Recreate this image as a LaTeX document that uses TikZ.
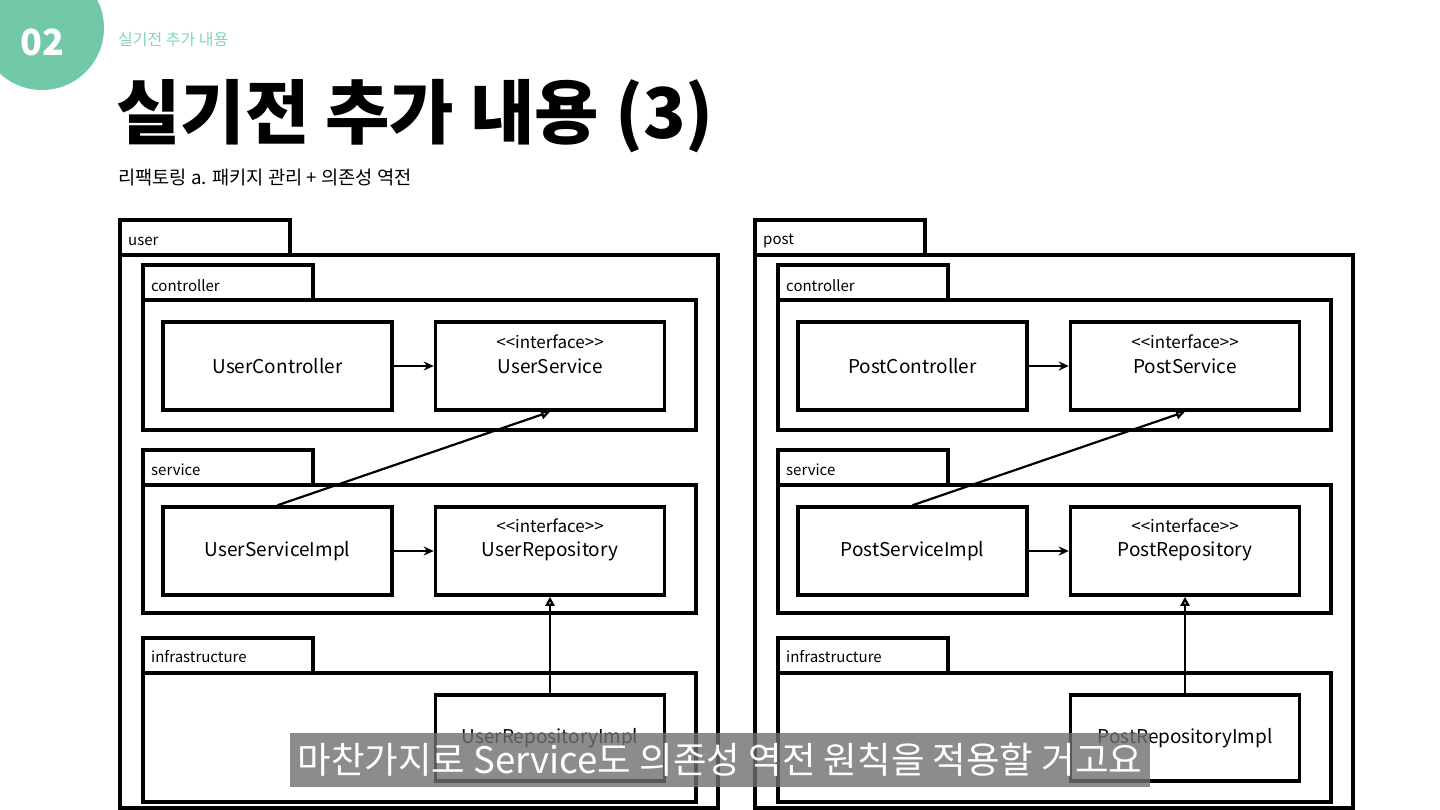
\documentclass[tikz,border=0pt]{standalone}
\usepackage{fontspec}
\setmainfont{Noto Sans CJK KR}
\usetikzlibrary{arrows.meta}
\definecolor{mint}{HTML}{72C9A7}
\definecolor{minttext}{HTML}{86D3B5}
\newcommand\stereo[1]{<\kern0pt<#1>\kern0pt>}

\begin{document}
\begin{tikzpicture}[x=1pt,y=-1pt,
  pkgline/.style={line width=3.5pt},
  tabtext/.style={anchor=west,inner sep=0pt,font=\fontsize{15}{15}\selectfont},
  cls/.style={draw,line width=3.5pt,minimum width=229pt,minimum height=88pt,inner sep=0pt,font=\fontsize{19}{19}\selectfont},
  stereotype/.style={inner sep=0pt,font=\fontsize{17}{17}\selectfont},
  uses/.style={-{Stealth[length=10pt,width=9pt]},line width=2.2pt},
  impl/.style={-{Triangle[open,length=9pt,width=9pt]},line width=2.2pt}]
  \useasboundingbox (0,0) rectangle (1440,810);
  \fill[white] (0,0) rectangle (1440,810);
  % 헤더
  \fill[mint] (42,28) circle[radius=62];
  \node[text=white,font=\bfseries\fontsize{36}{36}\selectfont] (num) at (42,42) {02};
  \node[anchor=west,inner sep=0pt,text=minttext,font=\fontsize{16}{16}\selectfont] (crumb) at (118,40) {실기전 추가 내용};
  \node[anchor=west,inner sep=0pt,font=\bfseries\fontsize{70}{70}\selectfont] (title) at (116,116) {실기전 추가 내용 (3)};
  \node[anchor=west,inner sep=0pt,font=\fontsize{18.7}{18.7}\selectfont] (sub) at (118,178) {리팩토링 a. 패키지 관리 + 의존성 역전};
  % 패키지
  \foreach \pkg/\Pkg/\dx in {user/User/0,post/Post/635}{
    \draw[pkgline] (120+\dx,255) rectangle (718+\dx,808);
    \draw[pkgline] (120+\dx,220) rectangle (290+\dx,255);
    \node[tabtext] (\pkg-lbl) at (128+\dx,241) {\pkg};
    % controller
    \draw[pkgline] (143+\dx,300) rectangle (696+\dx,430);
    \draw[pkgline] (143+\dx,265) rectangle (313+\dx,300);
    \node[tabtext] (\pkg-ctrl-lbl) at (151+\dx,286) {controller};
    % service
    \draw[pkgline] (143+\dx,485) rectangle (696+\dx,613);
    \draw[pkgline] (143+\dx,450) rectangle (313+\dx,485);
    \node[tabtext] (\pkg-svc-lbl) at (151+\dx,470) {service};
    % infrastructure
    \draw[pkgline] (143+\dx,673) rectangle (696+\dx,802);
    \draw[pkgline] (143+\dx,638) rectangle (313+\dx,673);
    \node[tabtext] (\pkg-infra-lbl) at (151+\dx,657) {infrastructure};
    % 클래스
    \node[cls] (\pkg-ctrl) at (277.5+\dx,366) {\Pkg Controller};
    \node[cls] (\pkg-svc) at (550+\dx,366) {\Pkg Service};
    \node[stereotype] (\pkg-svc-st) at (550+\dx,342) {\stereo{interface}};
    \node[cls] (\pkg-simpl) at (277.5+\dx,551) {\Pkg ServiceImpl};
    \node[cls] (\pkg-repo) at (550+\dx,551) {\Pkg Repository};
    \node[stereotype] (\pkg-repo-st) at (550+\dx,526) {\stereo{interface}};
    \node[cls,minimum height=86pt] (\pkg-rimpl) at (550+\dx,738) {\Pkg RepositoryImpl};
    % 의존 관계
    \draw[uses] (\pkg-ctrl) -- (\pkg-svc);
    \draw[uses] (\pkg-simpl) -- (\pkg-repo);
    \draw[impl] (\pkg-simpl.north) -- (\pkg-svc.south);
    \draw[impl] (\pkg-rimpl) -- (\pkg-repo);
  }
  % 자막
  \node[fill=black!56,fill opacity=0.8,text opacity=1,text=white,minimum width=860pt,minimum height=54pt,inner sep=0pt,font=\fontsize{36.5}{36.5}\selectfont] (caption) at (720,760) {마찬가지로 Service도 의존성 역전 원칙을 적용할 거고요};
\end{tikzpicture}
\end{document}
